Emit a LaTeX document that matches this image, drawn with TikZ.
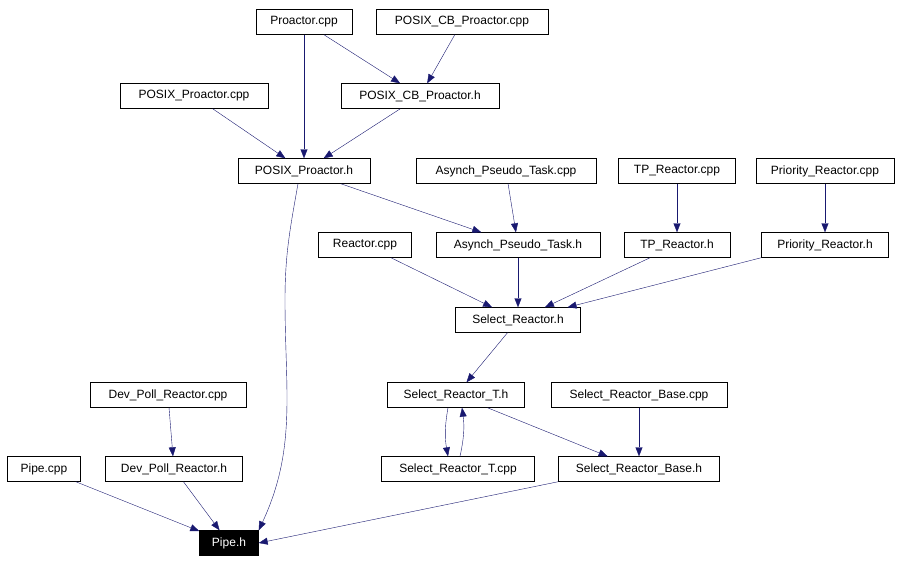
\documentclass[tikz,border=0pt]{standalone}
\usepackage{fontspec}
\setmainfont{Liberation Sans}
\usetikzlibrary{arrows.meta}

\begin{document}
\begin{tikzpicture}[x=1pt,y=-1pt]
\definecolor{edgecolor}{HTML}{191970}
\tikzset{
  file/.style={draw=black, fill=white, minimum height=25pt, inner sep=0pt,
    font=\fontsize{12}{14}\selectfont},
  focus/.style={file, fill=black, text=white},
  dep/.style={draw=edgecolor, -{Triangle[length=9pt,width=7pt,fill=edgecolor]}}
}
\useasboundingbox (0,0) rectangle (908,563);

% top rows
\node[file, minimum width=96pt] (proactorcpp) at (304,22) {Proactor.cpp};
\node[file, minimum width=172pt] (cbproactorcpp) at (462,22) {POSIX\_CB\_Proactor.cpp};
\node[file, minimum width=148pt] (posixproactorcpp) at (194,96) {POSIX\_Proactor.cpp};
\node[file, minimum width=158pt] (cbproactorh) at (420,96) {POSIX\_CB\_Proactor.h};
\node[file, minimum width=132pt] (posixproactorh) at (304,171) {POSIX\_Proactor.h};
\node[file, minimum width=180pt] (pseudotaskcpp) at (506,171) {Asynch\_Pseudo\_Task.cpp};
\node[file, minimum width=117pt] (tpreactorcpp) at (677,171) {TP\_Reactor.cpp};
\node[file, minimum width=138pt] (priorityreactorcpp) at (825,171) {Priority\_Reactor.cpp};

% middle rows
\node[file, minimum width=93pt] (reactorcpp) at (365,245) {Reactor.cpp};
\node[file, minimum width=164pt] (pseudotaskh) at (518,245) {Asynch\_Pseudo\_Task.h};
\node[file, minimum width=106pt] (tpreactorh) at (677,245) {TP\_Reactor.h};
\node[file, minimum width=127pt] (priorityreactorh) at (825,245) {Priority\_Reactor.h};
\node[file, minimum width=125pt] (selectreactorh) at (518,320) {Select\_Reactor.h};

% bottom rows
\node[file, minimum width=156pt] (devpollcpp) at (168,395) {Dev\_Poll\_Reactor.cpp};
\node[file, minimum width=137pt] (selecttH) at (456,395) {Select\_Reactor\_T.h};
\node[file, minimum width=176pt] (selectbasecpp) at (639,395) {Select\_Reactor\_Base.cpp};
\node[file, minimum width=73pt] (pipecpp) at (44,469) {Pipe.cpp};
\node[file, minimum width=137pt] (devpollh) at (174,469) {Dev\_Poll\_Reactor.h};
\node[file, minimum width=153pt] (selecttcpp) at (458,469) {Select\_Reactor\_T.cpp};
\node[file, minimum width=161pt] (selectbaseh) at (639,469) {Select\_Reactor\_Base.h};
\node[focus, minimum width=59pt] (pipeh) at (229,543) {Pipe.h};

% includes
\draw[dep] (proactorcpp) -- (posixproactorh);
\draw[dep] (proactorcpp) -- (cbproactorh);
\draw[dep] (cbproactorcpp) -- (cbproactorh);
\draw[dep] (posixproactorcpp) -- (posixproactorh);
\draw[dep] (cbproactorh) -- (posixproactorh);
\draw[dep] (posixproactorh) -- (pseudotaskh);
\draw[dep] (posixproactorh.south) ++(-6,0) to[out=-100,in=90] (285,300) to[out=-90,in=65] (pipeh.north east);
\draw[dep] (pseudotaskcpp) -- (pseudotaskh);
\draw[dep] (tpreactorcpp) -- (tpreactorh);
\draw[dep] (priorityreactorcpp) -- (priorityreactorh);
\draw[dep] (reactorcpp) -- (selectreactorh);
\draw[dep] (pseudotaskh) -- (selectreactorh);
\draw[dep] (tpreactorh) -- (selectreactorh);
\draw[dep] (priorityreactorh.south west) -- (selectreactorh);
\draw[dep] (selectreactorh) -- (selecttH);
\draw[dep] ([xshift=-8pt]selecttH.south) to[bend right=10] ([xshift=-10pt]selecttcpp.north);
\draw[dep] ([xshift=2pt]selecttcpp.north) to[bend right=10] ([xshift=6pt]selecttH.south);
\draw[dep] (selecttH) -- (selectbaseh);
\draw[dep] (selectbasecpp) -- (selectbaseh);
\draw[dep] (devpollcpp) -- (devpollh);
\draw[dep] (pipecpp) -- (pipeh);
\draw[dep] (devpollh) -- (pipeh);
\draw[dep] (selectbaseh.south west) -- (pipeh.east);
\end{tikzpicture}
\end{document}
